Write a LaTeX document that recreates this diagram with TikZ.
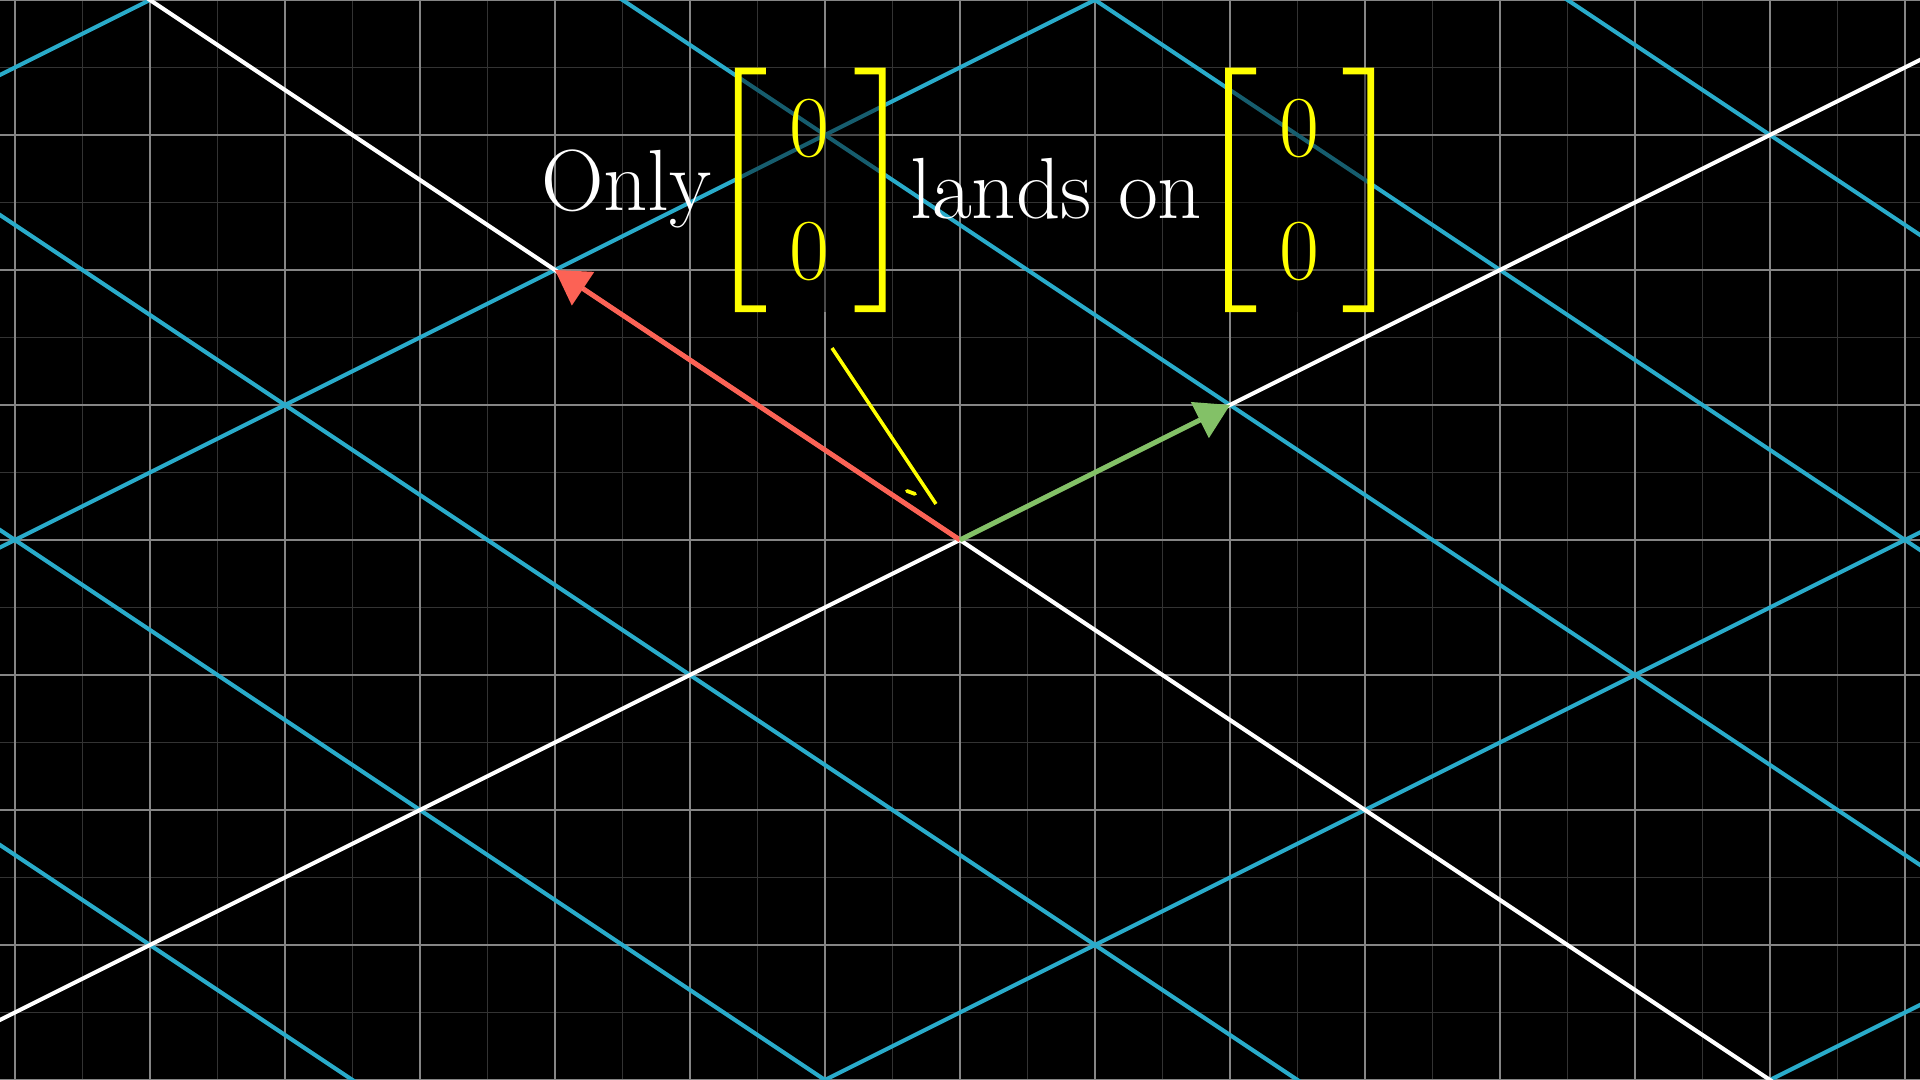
\documentclass[tikz,border=0pt]{standalone}
\usetikzlibrary{calc}
\definecolor{gridmain}{HTML}{858585}
\definecolor{gridminor}{HTML}{333333}
\definecolor{tblue}{HTML}{29ABCA}
\definecolor{vred}{HTML}{FC6255}
\definecolor{vgreen}{HTML}{83C167}
\definecolor{myyellow}{HTML}{FFFF00}
\begin{document}
\begin{tikzpicture}[x=1cm,y=1cm,
  mainline/.style={gridmain, line width=0.42pt},
  minorline/.style={gridminor, line width=0.4pt},
  tline/.style={tblue, line width=0.85pt},
  axline/.style={white, line width=0.85pt},
  redshaft/.style={vred, line width=1.05pt},
  greenshaft/.style={vgreen, line width=1.05pt},
  lbl/.style={white, font=\fontsize{18.3}{22}\selectfont, inner sep=0pt},
  entry/.style={myyellow, font=\fontsize{18.3}{22}\selectfont, inner sep=0pt},
  brak/.style={fill=myyellow},
  dimbox/.style={fill=black, fill opacity=0.45},
  pointer/.style={myyellow, line width=0.74pt}
]
\useasboundingbox (-7.1111,-4) rectangle (7.1111,4);
\clip (-7.1111,-4) rectangle (7.1111,4);
\fill[black] (-7.3,-4.2) rectangle (7.3,4.2);
% background grid
\foreach \x in {-7.5,-6.5,...,7.5} \draw[minorline] (\x,-4.2) -- (\x,4.2);
\foreach \y in {-4.5,-3.5,...,4.5} \draw[minorline] (-7.3,\y) -- (7.3,\y);
\foreach \x in {-7,...,7} \draw[mainline] (\x,-4.2) -- (\x,4.2);
\foreach \y in {-4,...,4} \draw[mainline] (-7.3,\y) -- (7.3,\y);
% transformed grid
\foreach \n in {-2,-1,1,2} \draw[tline] ({7*\n-20},-10) -- ({7*\n+20},10);
\foreach \m in {-3,-2,-1,1,2,3} \draw[tline] ({2*\m+15},{\m-10}) -- ({2*\m-15},{\m+10});
% transformed axes
\draw[axline] (-20,-10) -- (20,10);
\draw[axline] (15,-10) -- (-15,10);
% vectors
\coordinate (O) at (0,0);
\coordinate (R) at (-3,2);
\coordinate (G) at (2,1);
\coordinate (Rb) at ($(R)!0.25cm!(O)$);
\coordinate (Gb) at ($(G)!0.25cm!(O)$);
\draw[redshaft] (O) -- (Rb);
\fill[vred] (R) -- ($(Rb)!0.15cm!90:(R)$) -- ($(Rb)!0.15cm!-90:(R)$) -- cycle;
\draw[greenshaft] (O) -- (Gb);
\fill[vgreen] (G) -- ($(Gb)!0.15cm!90:(G)$) -- ($(Gb)!0.15cm!-90:(G)$) -- cycle;
% partial yellow pointer
\coordinate (ya) at (-0.948,1.422);
\coordinate (yb) at (-0.178,0.267);
\coordinate (yc) at (-0.393,0.363);
\coordinate (yd) at (-0.333,0.341);
\draw[pointer] (ya) -- (yb);
\draw[pointer, line width=0.8pt, line cap=round] (yc) -- (yd);
% dimming boxes behind matrices
\fill[dimbox] (-1.667,1.687) rectangle (-0.551,3.499);
\fill[dimbox] (1.963,1.687) rectangle (3.067,3.499);
% brackets matrix 1
\fill[brak] (-1.667,3.499) -- (-1.437,3.499) -- (-1.437,3.449) -- (-1.617,3.449) -- (-1.617,1.737) -- (-1.437,1.737) -- (-1.437,1.687) -- (-1.667,1.687) -- cycle;
\fill[brak] (-0.551,3.499) -- (-0.781,3.499) -- (-0.781,3.449) -- (-0.601,3.449) -- (-0.601,1.737) -- (-0.781,1.737) -- (-0.781,1.687) -- (-0.551,1.687) -- cycle;
% brackets matrix 2
\fill[brak] (1.963,3.499) -- (2.193,3.499) -- (2.193,3.449) -- (2.013,3.449) -- (2.013,1.737) -- (2.193,1.737) -- (2.193,1.687) -- (1.963,1.687) -- cycle;
\fill[brak] (3.067,3.499) -- (2.837,3.499) -- (2.837,3.449) -- (3.017,3.449) -- (3.017,1.737) -- (2.837,1.737) -- (2.837,1.687) -- (3.067,1.687) -- cycle;
% text
\node[lbl, anchor=base west] (only) at (-3.11,2.441) {Only};
\node[lbl, anchor=base west] (lands) at (-0.375,2.385) {lands on};
\node[entry] (a1) at (-1.1185,3.047) {0};
\node[entry] (a2) at (-1.1185,2.137) {0};
\node[entry] (b1) at (2.513,3.047) {0};
\node[entry] (b2) at (2.513,2.137) {0};
\end{tikzpicture}
\end{document}
